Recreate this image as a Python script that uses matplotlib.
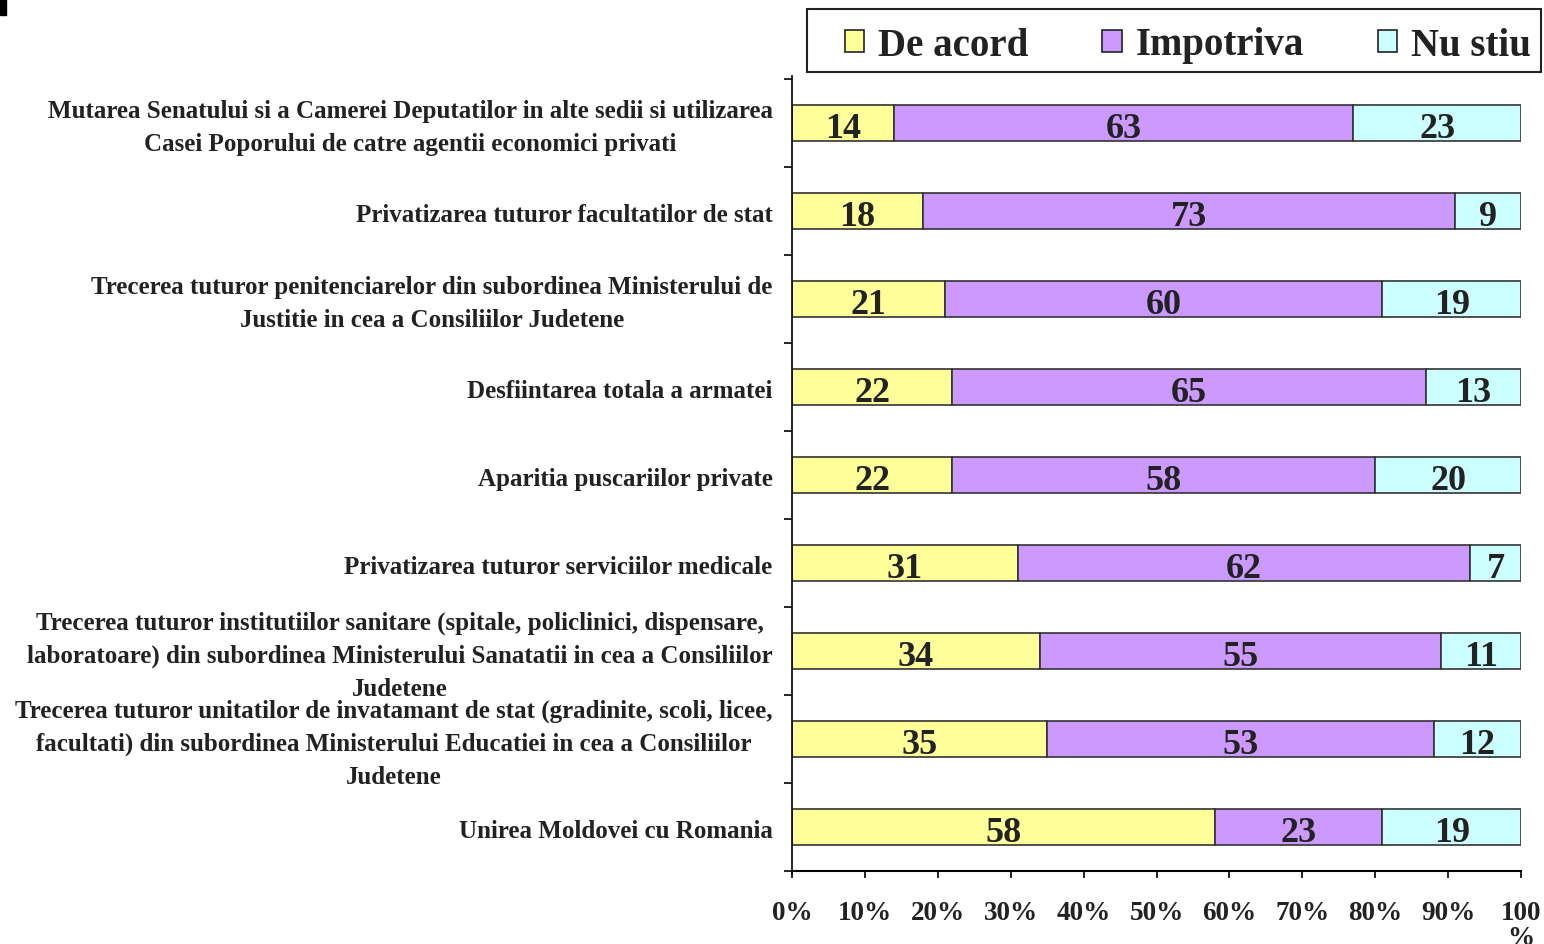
import numpy as np
import matplotlib
matplotlib.use("Agg")
import matplotlib.pyplot as plt
from matplotlib.patches import Rectangle

plt.rcParams['font.family'] = ['Liberation Serif', 'DejaVu Serif']
plt.rcParams['font.weight'] = 'bold'

# categories, top to bottom
categories = [
    "Mutarea Senatului si a Camerei Deputatilor in alte sedii si utilizarea\nCasei Poporului de catre agentii economici privati",
    "Privatizarea tuturor facultatilor de stat",
    "Trecerea tuturor penitenciarelor din subordinea Ministerului de\nJustitie in cea a Consiliilor Judetene",
    "Desfiintarea totala a armatei",
    "Aparitia puscariilor private",
    "Privatizarea tuturor serviciilor medicale",
    "Trecerea tuturor institutiilor sanitare (spitale, policlinici, dispensare,\nlaboratoare) din subordinea Ministerului Sanatatii in cea a Consiliilor\nJudetene",
    "Trecerea tuturor unitatilor de invatamant de stat (gradinite, scoli, licee,\nfacultati) din subordinea Ministerului Educatiei in cea a Consiliilor\nJudetene",
    "Unirea Moldovei cu Romania",
]
de_acord = [14, 18, 21, 22, 22, 31, 34, 35, 58]
impotriva = [63, 73, 60, 65, 58, 62, 55, 53, 23]
nu_stiu = [23, 9, 19, 13, 20, 7, 11, 12, 19]

series_names = ["De acord", "Impotriva", "Nu stiu"]
colors = ["#FFFF99", "#CC99FF", "#CCFFFF"]
tick_labels = ["0%", "10%", "20%", "30%", "40%", "50%", "60%", "70%", "80%", "90%", "100\n%"]

fig = plt.figure(figsize=(15.44, 9.45), dpi=100)
ax = fig.add_axes([792 / 1544, 1 - 872 / 945, 729 / 1544, 792 / 945])

y = np.arange(len(categories))
left = np.zeros(len(categories))
data = [de_acord, impotriva, nu_stiu]
for vals, name, c in zip(data, series_names, colors):
    vals = np.array(vals, dtype=float)
    ax.barh(y, vals, left=left, height=0.40, color=c, edgecolor="#333333",
            linewidth=1.2, label=name)
    for yi, (l, v) in enumerate(zip(left, vals)):
        ax.text(l + v / 2, yi + 0.06, str(int(v)), ha="center", va="center",
                fontsize=26, fontweight="bold", color="#222222")
    left += vals

ax.set_xlim(0, 100)
ax.set_ylim(len(categories) - 0.5, -0.5)
ax.set_xticks(np.arange(0, 101, 10))
ax.set_xticklabels(tick_labels, fontsize=19.5, fontweight="bold", linespacing=1.0,
                   va="top")
ax.set_yticks(np.arange(-0.5, len(categories), 1.0))
ax.set_yticklabels([])
# wrapped labels sit a little higher than one-line labels
label_y = [yi - 0.04 if "\n" in lab else yi + 0.01 for yi, lab in zip(y, categories)]
ax.set_yticks(label_y, minor=True)
ax.set_yticklabels(categories, minor=True, fontsize=18, fontweight="bold",
                   ha="right", multialignment="center", linespacing=1.55)
ax.tick_params(axis="y", which="minor", length=0, pad=14)
ax.tick_params(axis="y", which="major", length=6, direction="out", width=1.2)
ax.tick_params(axis="x", length=5, width=1.2, direction="out", pad=16)
for lbl in ax.get_xticklabels():
    lbl.set_color("#222222")
for lbl in ax.get_yticklabels(minor=True):
    lbl.set_color("#222222")

for s in ["top", "right"]:
    ax.spines[s].set_visible(False)
ax.spines["left"].set_linewidth(1.2)
ax.spines["bottom"].set_linewidth(1.5)
ax.spines["left"].set_bounds(len(categories) - 0.5 + 0.03, -0.5 - 0.03)

# legend entries without frame, frame drawn as a box of its own
leg = fig.legend(loc="center left", bbox_to_anchor=(845 / 1544, 1 - 46 / 945),
                 ncol=3, frameon=False, fontsize=28, handlelength=0.5,
                 handleheight=0.5, handletextpad=0.35, columnspacing=1.9,
                 borderpad=0, borderaxespad=0)
for t in leg.get_texts():
    t.set_color("#222222")
for h in leg.legend_handles:
    h.set_edgecolor("#222222")
    h.set_linewidth(1.2)

fig.patches.append(Rectangle((807 / 1544, 1 - 73 / 945), 734 / 1544, 63 / 945,
                             transform=fig.transFigure, fill=False,
                             edgecolor="#222222", linewidth=1.5))

# small black mark in the corner
fig.patches.append(Rectangle((0, 1 - 16 / 945), 6 / 1544, 16 / 945,
                             transform=fig.transFigure, color="black"))

fig.savefig("out.png", dpi=100)
